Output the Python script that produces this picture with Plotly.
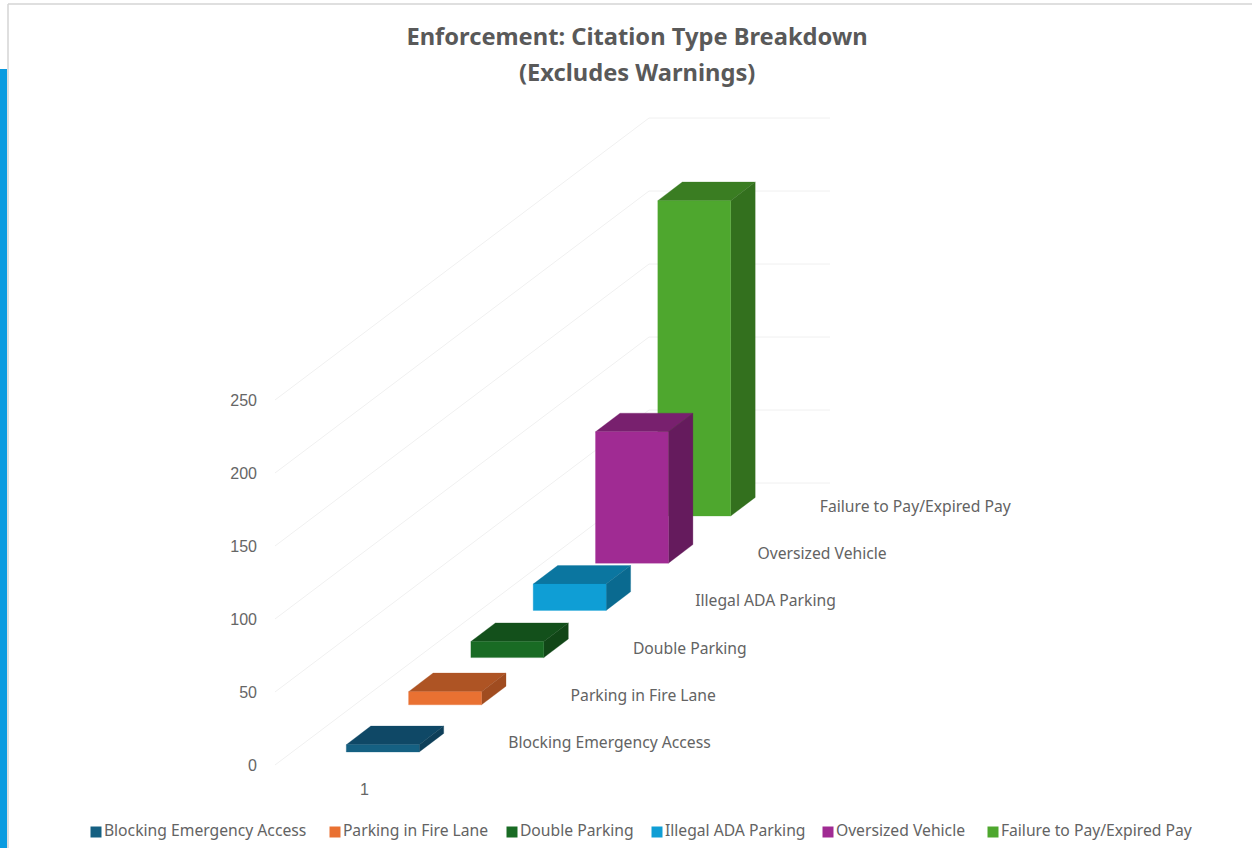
import plotly.graph_objects as go

# ---- data ----
categories = ["Blocking Emergency Access", "Parking in Fire Lane", "Double Parking",
              "Illegal ADA Parking", "Oversized Vehicle", "Failure to Pay/Expired Pay"]
values = [5, 9, 11, 18, 90, 216]
value_ticks = [0, 50, 100, 150, 200, 250]
group_labels = ["1"]
title_lines = ["Enforcement: Citation Type Breakdown", "(Excludes Warnings)"]
front_colors = ["#156082", "#E97132", "#196B24", "#0F9ED5", "#A02B93", "#4EA72E"]
top_colors = ["#0F4866", "#AE5424", "#13501B", "#0B76A0", "#78206E", "#3A7D22"]
side_colors = ["#0E3F59", "#A04C20", "#114617", "#0A6A90", "#651B5D", "#33701E"]

# ---- oblique projection of the 3-D box chart ----
W, H = 1252, 848
PX_PER_UNIT = 1.46
Y_ZERO_PX = 765
STEP_X, STEP_UP = 62.3, 47.2 / PX_PER_UNIT   # shift per series along the depth axis
BAR_X0, BAR_WIDTH = 346.3, 72.9
BAR_BASE_UP = 13 / PX_PER_UNIT               # front-face baseline above the axis zero
DEPTH_X, DEPTH_UP = 24.5, 18.6 / PX_PER_UNIT
WALL_X0, WALL_XC, WALL_X1 = 275, 649, 830
WALL_UP = 282 / PX_PER_UNIT
LABEL_DX, LABEL_UP = 162, 21 / PX_PER_UNIT

TEXT = "#636363"
BODY_FONT = "Noto Sans"
fig = go.Figure()

# wall / floor gridlines
for v in value_ticks:
    fig.add_trace(go.Scatter(
        x=[WALL_X0, WALL_XC, WALL_X1], y=[v, v + WALL_UP, v + WALL_UP],
        mode="lines", line=dict(color="#F0F0F0", width=1),
        hoverinfo="skip", showlegend=False))


def face(xs, ys, color, name):
    fig.add_trace(go.Scatter(
        x=xs + xs[:1], y=ys + ys[:1], mode="lines", fill="toself", fillcolor=color,
        line=dict(color=color, width=0.3), name=name, showlegend=False, hoverinfo="name"))


# bars, back to front
for i in range(len(values) - 1, -1, -1):
    x0 = BAR_X0 + STEP_X * i
    x1 = x0 + BAR_WIDTH
    y0 = BAR_BASE_UP + STEP_UP * i
    y1 = y0 + values[i]
    name = f"{categories[i]}: {values[i]}"
    face([x0, x1, x1 + DEPTH_X, x0 + DEPTH_X], [y1, y1, y1 + DEPTH_UP, y1 + DEPTH_UP], top_colors[i], name)
    face([x1, x1 + DEPTH_X, x1 + DEPTH_X, x1], [y0, y0 + DEPTH_UP, y1 + DEPTH_UP, y1], side_colors[i], name)
    face([x0, x1, x1, x0], [y0, y0, y1, y1], front_colors[i], name)

# depth-axis category labels
fig.add_trace(go.Scatter(
    x=[BAR_X0 + LABEL_DX + STEP_X * i for i in range(len(categories))],
    y=[LABEL_UP + STEP_UP * i for i in range(len(categories))],
    text=categories, mode="text", textposition="middle right",
    textfont=dict(family=BODY_FONT, size=15.7, color=TEXT),
    hoverinfo="skip", showlegend=False))

# legend row (Excel packs the swatches tightly against their text)
LEGEND_X = [90, 329, 506, 651, 822, 987]
LEGEND_UP = (Y_ZERO_PX - 832) / PX_PER_UNIT
for i, c in enumerate(categories):
    fig.add_trace(go.Scatter(
        x=[LEGEND_X[i] + 6], y=[LEGEND_UP], text=[c], mode="markers+text",
        textposition="middle right", name=c, showlegend=False, hoverinfo="skip",
        marker=dict(symbol="square", size=11, color=front_colors[i], line=dict(width=0)),
        textfont=dict(family=BODY_FONT, size=15.7, color=TEXT)))

fig.update_layout(
    width=W, height=H, margin=dict(l=0, r=0, t=0, b=0),
    paper_bgcolor="white", plot_bgcolor="white", showlegend=False,
    title=dict(
        text=f"<b>{title_lines[0]}</b>",
        x=637 / W, xanchor="center", y=1 - 37 / H, yanchor="middle",
        font=dict(family=BODY_FONT, size=23.7, color="#595959")),
    annotations=[dict(
        text=f"<b>{title_lines[1]}</b>", xref="paper", yref="paper",
        x=637 / W, y=1 - 72.5 / H, xanchor="center", yanchor="middle", showarrow=False,
        font=dict(family=BODY_FONT, size=23.7, color="#595959"))],
    xaxis=dict(range=[0, W], anchor="free", position=(H - 778) / H, tickmode="array",
               tickvals=[364.5], ticktext=group_labels, showgrid=False, zeroline=False,
               showline=False, ticks="", tickfont=dict(family="Liberation Sans", size=16, color="#666666")),
    yaxis=dict(range=[(Y_ZERO_PX - H) / PX_PER_UNIT, Y_ZERO_PX / PX_PER_UNIT],
               anchor="free", position=257 / W, tickmode="array", tickvals=value_ticks,
               showgrid=False, zeroline=False, showline=False, ticks="",
               tickfont=dict(family="Liberation Sans", size=16, color="#666666")),
    shapes=[
        dict(type="rect", xref="paper", yref="paper", x0=0, x1=7 / W, y0=0, y1=1 - 69 / H,
             fillcolor="#0A9BE0", line=dict(width=0), layer="above"),
        dict(type="line", xref="paper", yref="paper", x0=8 / W, x1=8 / W, y0=0, y1=1 - 4 / H,
             line=dict(color="#D4D4D4", width=1.5), layer="above"),
        dict(type="line", xref="paper", yref="paper", x0=8 / W, x1=1, y0=1 - 4 / H, y1=1 - 4 / H,
             line=dict(color="#D4D4D4", width=1.5), layer="above"),
    ],
)
fig.write_html("out.html", config=dict(displayModeBar=False),
               post_script="document.body.style.margin='0';")
